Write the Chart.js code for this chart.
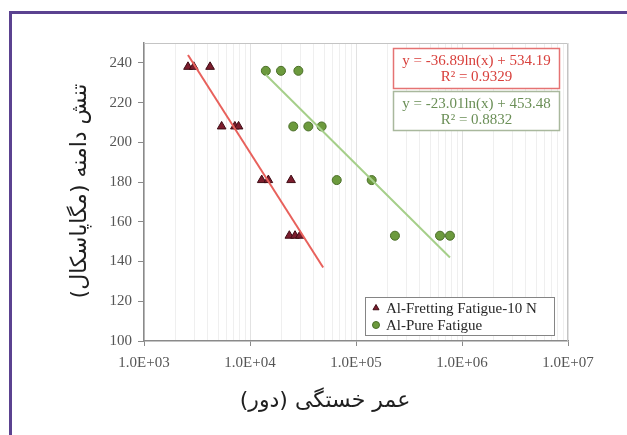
<!DOCTYPE html>
<html>
<head>
    <title>S-N</title>
    <script src="https://cdn.jsdelivr.net/npm/chart.js"></script>
    <style>
        html, body { margin: 0; padding: 0; background: #fff; }
        .wrap { position: relative; width: 627px; height: 435px; }
        .frame {
            position: absolute; left: 9px; top: 11px; right: -5px; bottom: -5px;
            border-left: 3px solid #5b4290; border-top: 3px solid #5b4290;
            pointer-events: none;
        }
    </style>
</head>
<body>
    <div class="wrap">
        <canvas id="snChart" width="627" height="435"></canvas>
        <div class="frame"></div>
    </div>

    <script>
        // داده‌ها
        const frettingCycles = [2600, 2950, 4200, 5400, 7200, 7800, 12900, 14900, 24400, 23500, 26600, 29600];
        const frettingStress = [238, 238, 238, 208, 208, 208, 181, 181, 181, 153, 153, 153];

        const pureCycles = [14100, 19600, 28600, 25600, 35500, 47400, 65800, 140600, 233000, 620000, 770000];
        const pureStress = [236, 236, 236, 208, 208, 208, 181, 181, 153, 153, 153];

        // trendline end points
        const frettingTrendCycles = [2600, 49000];
        const frettingTrendStress = [244, 137];
        const pureTrendCycles = [14100, 770000];
        const pureTrendStress = [234, 142];

        const xTickValues = [1e3, 1e4, 1e5, 1e6, 1e7];
        const xTickLabels = ['1.0E+03', '1.0E+04', '1.0E+05', '1.0E+06', '1.0E+07'];
        const yTickValues = [100, 120, 140, 160, 180, 200, 220, 240];

        const seriesNames = ['Al-Fretting Fatigue-10 N', 'Al-Pure Fatigue'];
        const equations = [
            ['y = -36.89ln(x) + 534.19', 'R\u00B2 = 0.9329'],
            ['y = -23.01ln(x) + 453.48', 'R\u00B2 = 0.8832']
        ];
        const xTitle = 'عمر خستگی (دور)';
        const yTitle = 'تنش دامنه (مگاپاسکال)';

        const toPoints = (xs, ys) => xs.map((x, i) => ({ x: x, y: ys[i] }));
        const isMajor = v => xTickValues.some(t => Math.abs(t - v) / t < 1e-6);

        const serif = 'Liberation Serif';

        // frame, titles, equation boxes and legend
        const extras = {
            id: 'extras',
            afterDraw(chart) {
                const c = chart.ctx;
                const a = chart.chartArea;
                c.save();

                c.strokeStyle = '#c4c4c4';
                c.lineWidth = 1;
                c.beginPath();
                c.moveTo(a.left, a.top + 0.5);
                c.lineTo(a.right - 0.5, a.top + 0.5);
                c.lineTo(a.right - 0.5, a.bottom);
                c.stroke();

                // equations
                const boxes = [
                    { y: 48.5, h: 40, border: '#e57373', text: '#d8403c' },
                    { y: 91.5, h: 39, border: '#a9b89d', text: '#6b8f57' }
                ];
                boxes.forEach((b, i) => {
                    c.fillStyle = '#fff';
                    c.fillRect(393.5, b.y, 166, b.h);
                    c.strokeStyle = b.border;
                    c.lineWidth = 1.5;
                    c.strokeRect(393.5, b.y, 166, b.h);
                    c.fillStyle = b.text;
                    c.font = '15px "' + serif + '"';
                    c.textAlign = 'center';
                    c.textBaseline = 'middle';
                    c.fillText(equations[i][0], 476.5, b.y + 13, 162);
                    c.fillText(equations[i][1], 476.5, b.y + 29);
                });

                // legend
                c.fillStyle = '#fff';
                c.fillRect(365.5, 297.5, 189, 38);
                c.strokeStyle = '#858585';
                c.lineWidth = 1;
                c.strokeRect(365.5, 297.5, 189, 38);
                const ds = chart.data.datasets;
                [0, 1].forEach(i => {
                    const d = ds[i + 2];
                    const y = 308 + i * 17;
                    c.fillStyle = d.backgroundColor;
                    c.strokeStyle = d.borderColor;
                    c.lineWidth = 1;
                    Chart.helpers.drawPoint(c, { pointStyle: d.pointStyle, radius: 3.5, borderWidth: 1, rotation: 0 }, 376, y);
                    c.fillStyle = '#262626';
                    c.font = '15px "' + serif + '"';
                    c.textAlign = 'left';
                    c.textBaseline = 'middle';
                    c.fillText(seriesNames[i], 386, y + 1);
                });

                // axis titles
                c.fillStyle = '#1f1f1f';
                c.font = '22px "DejaVu Sans"';
                c.textAlign = 'center';
                c.textBaseline = 'middle';
                c.direction = 'rtl';
                c.fillText(xTitle, 325, 401);
                c.translate(80, 191);
                c.rotate(-Math.PI / 2);
                c.fillText(yTitle, 0, 0);
                c.restore();
            }
        };

        const ctx = document.getElementById('snChart');
        new Chart(ctx, {
            type: 'scatter',
            data: {
                datasets: [
                    {
                        type: 'line',
                        label: 'fretting trend',
                        data: toPoints(frettingTrendCycles, frettingTrendStress),
                        borderColor: '#e8615c',
                        borderWidth: 2,
                        pointRadius: 0,
                        fill: false,
                        order: 0
                    },
                    {
                        type: 'line',
                        label: 'pure trend',
                        data: toPoints(pureTrendCycles, pureTrendStress),
                        borderColor: '#a6cf8a',
                        borderWidth: 2,
                        pointRadius: 0,
                        fill: false,
                        order: 0
                    },
                    {
                        label: seriesNames[0],
                        data: toPoints(frettingCycles, frettingStress),
                        pointStyle: 'triangle',
                        pointRadius: 5,
                        backgroundColor: '#7c1d2d',
                        borderColor: '#3f0c15',
                        borderWidth: 1,
                        order: 1
                    },
                    {
                        label: seriesNames[1],
                        data: toPoints(pureCycles, pureStress),
                        pointStyle: 'circle',
                        pointRadius: 4.5,
                        backgroundColor: '#6c9a3d',
                        borderColor: '#4a6e28',
                        borderWidth: 1,
                        order: 1
                    }
                ]
            },
            options: {
                responsive: false,
                animation: false,
                layout: { padding: { left: 0, top: 43, right: 59, bottom: 0 } },
                plugins: {
                    legend: { display: false },
                    tooltip: { enabled: false }
                },
                scales: {
                    x: {
                        type: 'logarithmic',
                        min: 1e3,
                        max: 1e7,
                        afterFit: s => { s.height = 94; },
                        afterBuildTicks: s => {
                            const t = [];
                            for (let e = 3; e < 7; e++) {
                                for (let m = 1; m < 10; m++) t.push({ value: m * Math.pow(10, e) });
                            }
                            t.push({ value: 1e7 });
                            s.ticks = t;
                        },
                        grid: {
                            color: c => isMajor(c.tick.value) ? '#e2e2e2' : '#efefef',
                            tickColor: c => isMajor(c.tick.value) ? '#8a8a8a' : 'rgba(0,0,0,0)',
                            tickLength: 5,
                            lineWidth: 1
                        },
                        border: { display: true, color: '#8a8a8a', width: 1.5 },
                        ticks: {
                            autoSkip: false,
                            maxRotation: 0,
                            padding: 8,
                            color: '#555',
                            font: { family: serif, size: 15 },
                            callback: v => {
                                const i = xTickValues.findIndex(t => Math.abs(t - v) / t < 1e-6);
                                return i >= 0 ? xTickLabels[i] : '';
                            }
                        }
                    },
                    y: {
                        min: 100,
                        max: 250,
                        afterFit: s => { s.width = 144; },
                        afterBuildTicks: s => { s.ticks = yTickValues.map(v => ({ value: v })); },
                        grid: {
                            drawOnChartArea: false,
                            tickLength: 6,
                            tickColor: '#8a8a8a'
                        },
                        border: { display: true, color: '#8a8a8a', width: 1.5 },
                        ticks: {
                            padding: 6,
                            color: '#555',
                            font: { family: serif, size: 15 }
                        }
                    }
                }
            },
            plugins: [extras]
        });
    </script>
</body>
</html>
